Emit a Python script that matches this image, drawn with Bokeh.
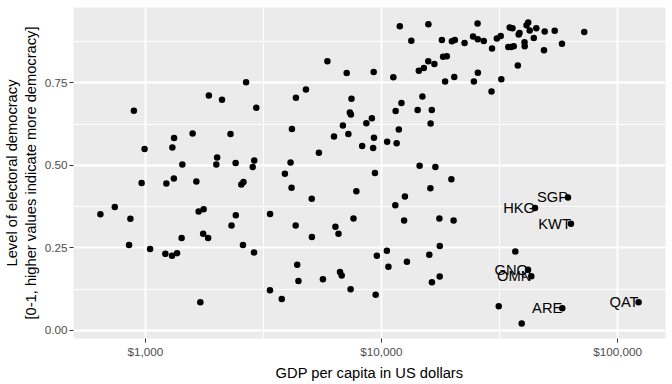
import math
from bokeh.plotting import figure
from bokeh.models import FixedTicker, NumeralTickFormatter, Range1d, ColumnDataSource
from bokeh.embed import file_html
from bokeh.resources import INLINE
from bokeh.core.properties import value

# GDP per capita (US$) and electoral democracy index for unlabeled countries
gdp = [645, 742, 864, 853, 894, 992, 964, 1047, 1227, 1215, 1297, 1362, 1301, 1323, 1320,
       1424, 1434, 1585, 1644, 1681, 1765, 1757, 1844, 1709, 1857, 2111, 2013, 1997, 2294,
       2411, 2316, 2415, 2548, 2603, 2590, 2670, 2949, 2892, 2850, 2884, 3373, 3370, 3781,
       3899, 4119, 4175, 4160, 4341, 4330, 4396, 4448, 4786, 5064, 5073, 5431, 5648, 5900,
       6293, 6380, 6575, 6672, 6784, 6864, 7123, 7241, 7347, 7419, 7463, 7400, 7609, 7827,
       8282, 8628, 9104, 9265, 9292, 9219, 9382, 9447, 9557, 10566, 10540, 10700, 11223,
       11478, 11590, 11841, 11444, 11956, 12145, 12566, 12468, 12813, 13374, 14223, 14388,
       14500, 14903, 15121, 15797, 15780, 15939, 16143, 16110, 16331, 16749, 16915, 17587,
       17656, 17640, 16350, 18023, 18232, 18904, 18594, 19770, 20199, 19866, 20438, 20335,
       22480, 24423, 25516, 25569, 25593, 24615, 27110, 29383, 29242, 30796, 31989, 32175,
       34914, 35876, 34435, 35360, 36308, 37781, 38113, 38412, 40335, 40410, 41133, 41812,
       42432, 44157, 45248, 49104, 48776, 54146, 58133, 72227, 36879, 31370, 39245]
democracy = [0.352, 0.374, 0.338, 0.259, 0.666, 0.550, 0.447, 0.247, 0.445, 0.232, 0.226,
             0.234, 0.554, 0.583, 0.460, 0.280, 0.503, 0.597, 0.451, 0.360, 0.367, 0.293,
             0.280, 0.085, 0.712, 0.699, 0.524, 0.503, 0.595, 0.507, 0.318, 0.349, 0.442,
             0.450, 0.259, 0.752, 0.675, 0.515, 0.495, 0.236, 0.353, 0.122, 0.095, 0.475,
             0.509, 0.610, 0.432, 0.705, 0.318, 0.199, 0.150, 0.730, 0.399, 0.283, 0.538,
             0.155, 0.816, 0.588, 0.314, 0.293, 0.177, 0.166, 0.621, 0.780, 0.595, 0.660,
             0.654, 0.702, 0.125, 0.339, 0.422, 0.559, 0.628, 0.643, 0.783, 0.584, 0.553,
             0.477, 0.108, 0.226, 0.572, 0.241, 0.193, 0.767, 0.665, 0.567, 0.609, 0.379,
             0.922, 0.689, 0.406, 0.333, 0.208, 0.878, 0.668, 0.787, 0.499, 0.709, 0.795,
             0.928, 0.816, 0.229, 0.627, 0.431, 0.668, 0.807, 0.495, 0.339, 0.256, 0.163,
             0.146, 0.880, 0.829, 0.831, 0.754, 0.458, 0.333, 0.876, 0.880, 0.768, 0.871,
             0.891, 0.930, 0.882, 0.781, 0.754, 0.877, 0.854, 0.724, 0.885, 0.892, 0.761,
             0.918, 0.916, 0.859, 0.859, 0.861, 0.803, 0.897, 0.901, 0.873, 0.861, 0.925,
             0.933, 0.909, 0.886, 0.916, 0.906, 0.849, 0.908, 0.869, 0.904, 0.239, 0.073,
             0.021]

# labeled countries
label_codes = ["SGP", "HKG", "KWT", "GNQ", "OMN", "ARE", "QAT"]
label_gdp = [61625, 44677, 63446, 41735, 43102, 58307, 122700]
label_dem = [0.403, 0.371, 0.323, 0.184, 0.164, 0.067, 0.085]

x_ticks = [1000, 10000, 100000]
x_minor = [316.23, 3162.3, 31623, 316228]
y_ticks = [0.0, 0.25, 0.50, 0.75]
y_minor = [0.125, 0.375, 0.625, 0.875]

FONT = "Liberation Sans"

all_x = gdp + label_gdp
all_y = democracy + label_dem
lx0, lx1 = math.log10(min(all_x)), math.log10(max(all_x))
ex = (lx1 - lx0) * 0.05
y0, y1 = min(all_y), max(all_y)
ey = (y1 - y0) * 0.05

p = figure(width=672, height=384, x_axis_type="log",
           x_range=Range1d(10 ** (lx0 - ex), 10 ** (lx1 + ex)),
           y_range=Range1d(y0 - ey, y1 + ey),
           output_backend="svg", toolbar_location=None,
           min_border_left=72, min_border_right=7, min_border_top=7, min_border_bottom=46)

p.background_fill_color = "#EBEBEB"
p.border_fill_color = "white"
p.outline_line_color = None

p.xaxis.ticker = FixedTicker(ticks=x_ticks, minor_ticks=x_minor)
p.xaxis.formatter = NumeralTickFormatter(format="$0,0")
p.yaxis.ticker = FixedTicker(ticks=y_ticks, minor_ticks=y_minor)
p.yaxis.formatter = NumeralTickFormatter(format="0.00")

p.xaxis.axis_label = "GDP per capita in US dollars"
p.yaxis.axis_label = "Level of electoral democracy\n[0-1, higher values indicate more democracy]"

for ax in p.axis:
    ax.axis_line_color = None
    ax.major_tick_line_color = "#333333"
    ax.major_tick_line_width = 1
    ax.major_tick_out = 4
    ax.major_tick_in = 0
    ax.minor_tick_line_color = None
    ax.major_label_text_color = "#4D4D4D"
    ax.major_label_text_font = FONT
    ax.major_label_text_font_size = "11.7px"
    ax.major_label_standoff = 2
    ax.axis_label_text_font = FONT
    ax.axis_label_text_font_size = "14.7px"
    ax.axis_label_text_font_style = "normal"
    ax.axis_label_text_color = "black"
    ax.axis_label_standoff = 4
p.yaxis.axis_label_standoff = 3

p.grid.grid_line_color = "white"
p.grid.grid_line_width = 1.9
p.grid.minor_grid_line_color = "white"
p.grid.minor_grid_line_width = 0.95

src = ColumnDataSource(dict(x=gdp, y=democracy))
p.scatter("x", "y", source=src, size=6.5, fill_color="black", line_color=None)

lsrc = ColumnDataSource(dict(x=label_gdp, y=label_dem, code=label_codes))
p.scatter("x", "y", source=lsrc, size=6.5, fill_color="black", line_color=None)
p.text("x", "y", text="code", source=lsrc, text_align="right", text_baseline="middle",
       text_font=value(FONT), text_font_size="14.7px", text_color="black")

open("out.html", "w").write(file_html(p, INLINE))
